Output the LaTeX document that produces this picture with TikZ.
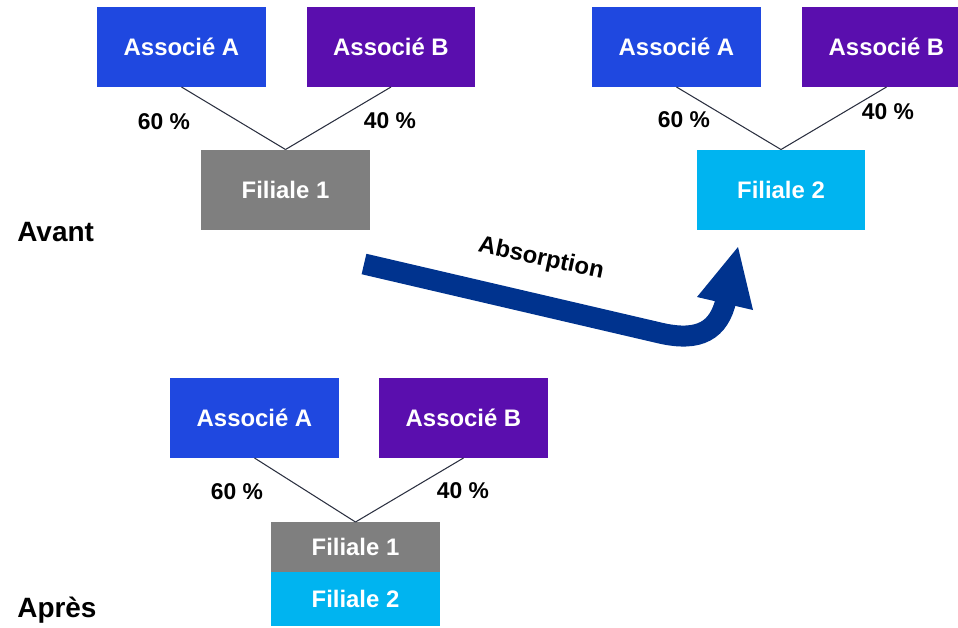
\documentclass[tikz,border=0pt]{standalone}
\usepackage{fontspec}
\setmainfont{Liberation Sans}
\usepackage{tikz}
\tikzset{>=latex}
\definecolor{assocA}{HTML}{1F48E0}
\definecolor{assocB}{HTML}{5A0EAE}
\definecolor{fil1}{HTML}{7F7F7F}
\definecolor{fil2}{HTML}{00B4F0}
\definecolor{absorb}{HTML}{00338E}
\definecolor{lienC}{HTML}{2B3040}

\begin{document}
\begin{tikzpicture}[x=0.02cm,y=-0.02cm]
\useasboundingbox (0,0) rectangle (958,627);
\begin{scope}[every node/.style={rectangle,inner sep=0pt,outer sep=0pt,minimum width=3.38cm,minimum height=1.6cm,text=white,font=\fontsize{13.6}{16}\selectfont\bfseries}]
% avant
\node[fill=assocA] (A1) at (181.5,47) {Associé A};
\node[fill=assocB] (B1) at (391,47) {Associé B};
\node[fill=fil1] (F1) at (285.5,189.5) {Filiale 1};
\node[fill=assocA] (A2) at (676.5,47) {Associé A};
\node[fill=assocB] (B2) at (886.5,47) {Associé B};
\node[fill=fil2] (F2) at (781,189.5) {Filiale 2};
% apres
\node[fill=assocA] (A3) at (254.5,418) {Associé A};
\node[fill=assocB] (B3) at (463.5,418) {Associé B};
\node[fill=fil1,minimum height=1cm] (F3) at (355.5,547) {Filiale 1};
\node[fill=fil2,minimum height=1.08cm] (G3) at (355.5,599) {Filiale 2};
\end{scope}
\begin{scope}[every node/.style={inner sep=0pt,font=\fontsize{13}{15}\selectfont\bfseries},
    every edge/.style={draw=lienC,line width=0.6pt}]
    \path (A1.south) edge (F1.north);
    \path (B1.south) edge (F1.north);
    \path (A2.south) edge (F2.north);
    \path (B2.south) edge (F2.north);
    \path (A3.south) edge (F3.north);
    \path (B3.south) edge (F3.north);

    \node (pA1) at (164,122) {60 \%};
    \node (pB1) at (390,121) {40 \%};
    \node (pA2) at (684,120) {60 \%};
    \node (pB2) at (888,112) {40 \%};
    \node (pA3) at (237,492) {60 \%};
    \node (pB3) at (463,491) {40 \%};
\end{scope}
\node[anchor=west,inner sep=0pt,font=\fontsize{15.9}{18}\selectfont\bfseries] (avant) at (17,232) {Avant};
\node[anchor=west,inner sep=0pt,font=\fontsize{15.9}{18}\selectfont\bfseries] (apres) at (17,610) {Après};

% fleche d'absorption
\coordinate (absStart) at (364,264);
\coordinate (absTip) at (738,247);
\draw[absorb,line width=0.42cm] (absStart) -- (660,333) .. controls (700,342.3) and (719,330) .. (726,300);
\fill[absorb] (697,297) -- (absTip) -- (753,310) -- cycle;
\node[rotate=-12,inner sep=0pt,font=\fontsize{13.6}{16}\selectfont\bfseries] (abs) at (541,259) {Absorption};
\end{tikzpicture}
\end{document}
